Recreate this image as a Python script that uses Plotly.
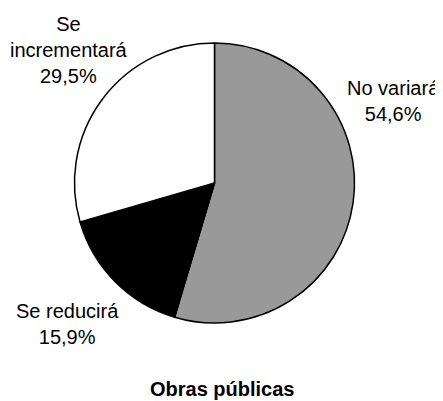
import plotly.graph_objects as go

# datos
categorias = ["No variará", "Se reducirá", "Se incrementará"]
etiquetas = ["No variará", "Se reducirá", "Se<br>incrementará"]
valores = [54.6, 15.9, 29.5]
colores = ["#999999", "#000000", "#ffffff"]
titulo = "Obras públicas"

# la página pone 8px de margen al body, así que la figura es algo menor
OFF = 8
W, H = 443 - OFF, 401 - OFF


def px(x):
    return (x - OFF) / W


def py(y):
    return 1 - (y - OFF) / H


fig = go.Figure(
    data=go.Pie(
        labels=categorias,
        values=valores,
        sort=False,
        direction="clockwise",
        rotation=0,
        marker=dict(colors=colores, line=dict(color="#000000", width=1.5)),
        textinfo="none",
        hoverinfo="label+percent",
        domain=dict(x=[px(74.5), px(354.5)], y=[py(323), py(43)]),
        showlegend=False,
    )
)

# posiciones de las etiquetas (px desde arriba-izquierda de la ventana)
pos_etiquetas = [(393, 101), (67, 324), (69, 50)]

anots = []
for et, v, (x_, y_) in zip(etiquetas, valores, pos_etiquetas):
    anots.append(dict(
        x=px(x_), y=py(y_), xref="paper", yref="paper",
        xanchor="center", yanchor="middle", showarrow=False,
        text=et + "<br>" + ("%.1f%%" % v).replace(".", ","),
        font=dict(size=20, color="#000000"),
    ))

anots.append(dict(
    x=px(222), y=py(389), xref="paper", yref="paper",
    xanchor="center", yanchor="middle", showarrow=False,
    text="<b>" + titulo + "</b>",
    font=dict(size=20, color="#000000"),
))

fig.update_layout(
    width=W, height=H,
    margin=dict(l=0, r=0, t=0, b=0),
    paper_bgcolor="#ffffff",
    plot_bgcolor="#ffffff",
    font=dict(family="Liberation Sans, Arial, sans-serif"),
    annotations=anots,
)

fig.write_html("out.html")
